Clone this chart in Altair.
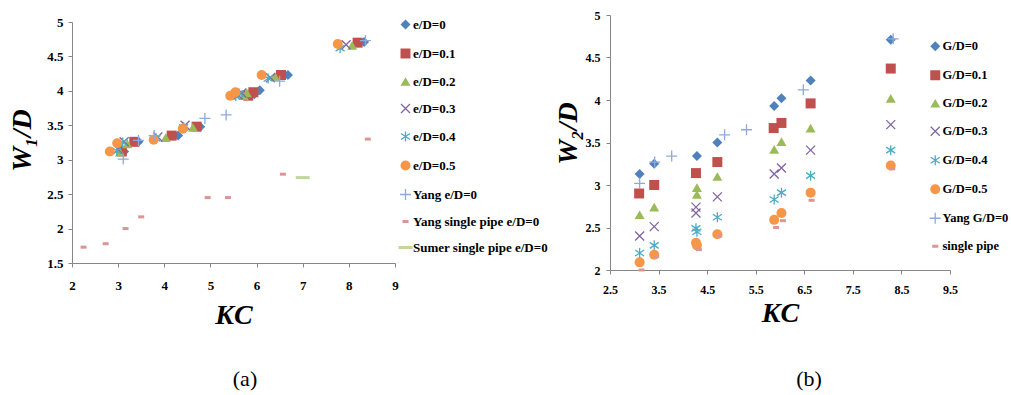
import altair as alt
import pandas as pd

SERIF = "Liberation Serif"

# ---------------- panel (a): W1/D vs KC ----------------
A_SERIES = ["e/D=0", "e/D=0.1", "e/D=0.2", "e/D=0.3", "e/D=0.4", "e/D=0.5",
            "Yang  e/D=0", "Yang single pipe e/D=0", "Sumer single pipe e/D=0"]

A_KC = {
    "e/D=0":   [3.13, 3.44, 4.30, 4.78, 5.95, 6.07, 6.68, 8.33],
    "e/D=0.1": [3.08, 3.35, 4.16, 4.70, 5.82, 5.93, 6.53, 8.19],
    "e/D=0.2": [3.04, 3.20, 4.03, 4.62, 5.72, 5.79, 6.40, 8.07],
    "e/D=0.3": [3.00, 3.13, 3.86, 4.45, 5.60, 5.68, 6.30, 7.94],
    "e/D=0.4": [2.97, 3.10, 3.82, 4.42, 5.55, 5.62, 6.25, 7.81],
    "e/D=0.5": [2.82, 2.98, 3.77, 4.40, 5.43, 5.54, 6.11, 7.76],
    "Yang  e/D=0": [3.11, 3.44, 3.78, 4.88, 5.34, 6.50, 8.36],
    "Yang single pipe e/D=0": [2.25, 2.73, 3.16, 3.50, 4.94, 5.38, 6.57, 8.41],
    "Sumer single pipe e/D=0": [7.00],
}
A_W = {
    "e/D=0":   [3.12, 3.26, 3.35, 3.48, 3.95, 4.01, 4.23, 4.71],
    "e/D=0.1": [3.12, 3.26, 3.35, 3.48, 3.93, 3.98, 4.23, 4.70],
    "e/D=0.2": [3.11, 3.23, 3.32, 3.47, 3.93, 3.97, 4.21, 4.66],
    "e/D=0.3": [3.15, 3.26, 3.33, 3.50, 3.94, 3.97, 4.19, 4.67],
    "e/D=0.4": [3.13, 3.25, 3.31, 3.47, 3.92, 3.96, 4.18, 4.62],
    "e/D=0.5": [3.12, 3.24, 3.29, 3.45, 3.93, 3.98, 4.23, 4.68],
    "Yang  e/D=0": [3.01, 3.28, 3.35, 3.60, 3.65, 4.14, 4.73],
    "Yang single pipe e/D=0": [1.73, 1.78, 2.00, 2.17, 2.45, 2.45, 2.79, 3.30],
    "Sumer single pipe e/D=0": [2.74],
}

# ---------------- panel (b): W2/D vs KC ----------------
B_SERIES = ["G/D=0", "G/D=0.1", "G/D=0.2", "G/D=0.3", "G/D=0.4", "G/D=0.5",
            "Yang G/D=0", "single pipe"]

B_KC = {
    "G/D=0":   [3.11, 3.41, 4.29, 4.71, 5.88, 6.03, 6.63, 8.28],
    "G/D=0.1": [3.10, 3.41, 4.27, 4.71, 5.87, 6.03, 6.63, 8.28],
    "G/D=0.2": [3.11, 3.41, 4.29, 4.29, 4.71, 5.88, 6.03, 6.63, 8.28],
    "G/D=0.3": [3.11, 3.41, 4.27, 4.27, 4.71, 5.88, 6.03, 6.63, 8.28],
    "G/D=0.4": [3.11, 3.41, 4.27, 4.29, 4.71, 5.88, 6.03, 6.63, 8.28],
    "G/D=0.5": [3.11, 3.41, 4.27, 4.29, 4.71, 5.88, 6.03, 6.63, 8.28],
    "Yang G/D=0": [3.11, 3.42, 3.77, 4.86, 5.31, 6.48, 8.33],
    "single pipe": [3.15, 3.45, 4.33, 4.75, 5.92, 6.06, 6.65, 8.31],
}
B_W = {
    "G/D=0":   [3.13, 3.25, 3.34, 3.50, 3.93, 4.02, 4.23, 4.71],
    "G/D=0.1": [2.90, 3.00, 3.14, 3.27, 3.67, 3.73, 3.96, 4.37],
    "G/D=0.2": [2.65, 2.74, 2.97, 2.89, 3.10, 3.42, 3.51, 3.67, 4.02],
    "G/D=0.3": [2.40, 2.51, 2.74, 2.67, 2.86, 3.13, 3.20, 3.41, 3.71],
    "G/D=0.4": [2.20, 2.29, 2.49, 2.45, 2.62, 2.83, 2.91, 3.11, 3.41],
    "G/D=0.5": [2.09, 2.18, 2.32, 2.29, 2.42, 2.59, 2.67, 2.91, 3.23],
    "Yang G/D=0": [3.02, 3.27, 3.34, 3.59, 3.65, 4.12, 4.72],
    "single pipe": [2.00, 2.16, 2.24, 2.40, 2.50, 2.58, 2.82, 3.19],
}

A_XTICKS = [2, 3, 4, 5, 6, 7, 8, 9]
A_YTICKS = [1.5, 2, 2.5, 3, 3.5, 4, 4.5, 5]
B_XTICKS = [2.5, 3.5, 4.5, 5.5, 6.5, 7.5, 8.5, 9.5]
B_YTICKS = [2, 2.5, 3, 3.5, 4, 4.5, 5]
CAPTIONS = ["(a)", "(b)"]

# ---------------- styles ----------------
BLUE, RED, GREEN, PURPLE, TEAL, ORANGE = "#4F81BD", "#C0504D", "#9BBB59", "#8064A2", "#4BACC6", "#F79646"
LIGHTBLUE, PINK, LIGHTGREEN = "#8EA9DB", "#DA9694", "#C3D69B"
XPATH = "M-0.9,-0.9L0.9,0.9M-0.9,0.9L0.9,-0.9"
ASTER = "M0,-1L0,1M-0.9,-0.6L0.9,0.6M-0.9,0.6L0.9,-0.6"
PLUS = "M-1.1,0L1.1,0M0,-1.1L0,1.1"
DASH = "M-0.6,-0.3L0.6,-0.3L0.6,0.3L-0.6,0.3Z"
LDASH = "M-1.4,-0.3L1.4,-0.3L1.4,0.3L-1.4,0.3Z"
T = "transparent"

A_FILL = [BLUE, RED, GREEN, PURPLE, TEAL, ORANGE, LIGHTBLUE, PINK, LIGHTGREEN]
A_STROKE = [T, T, T, PURPLE, TEAL, T, LIGHTBLUE, T, T]
A_SHAPE = ["diamond", "square", "triangle-up", XPATH, ASTER, "circle", PLUS, DASH, LDASH]
B_FILL = [BLUE, RED, GREEN, PURPLE, TEAL, ORANGE, LIGHTBLUE, PINK]
B_STROKE = [T, T, T, PURPLE, TEAL, T, LIGHTBLUE, T]
B_SHAPE = ["diamond", "square", "triangle-up", XPATH, ASTER, "circle", PLUS, DASH]


def frame(series, kc, w):
    rows = []
    for s in series:
        for k, v in zip(kc[s], w[s]):
            rows.append({"s": s, "KC": k, "W": v})
    return pd.DataFrame(rows)


dfA = frame(A_SERIES, A_KC, A_W)
dfB = frame(B_SERIES, B_KC, B_W)

AX_COMMON = dict(grid=False, domainColor="#868686", tickColor="#868686", tickSize=4,
                 labelFont=SERIF, labelFontWeight="bold", labelColor="black",
                 labelFlush=False, labelOverlap=False, format=".2~g",
                 titleFont=SERIF, titleFontStyle="italic", titleFontWeight="bold",
                 titleColor="black", titleAlign="center", titleBaseline="middle")


def legend(x, y, rp, fs):
    return alt.Legend(orient="none", legendX=x, legendY=y, title=None, padding=0,
                      labelFont=SERIF, labelFontWeight="bold", labelFontSize=fs,
                      labelColor="black", labelLimit=400, labelOffset=1,
                      symbolSize=100, symbolStrokeWidth=1.3, rowPadding=rp)


legA = legend(399, 18, 12, 13)
legB = legend(929, 40, 13, 12.5)

chartA = alt.Chart(dfA).mark_point(filled=True, size=100, strokeWidth=1.3, opacity=1).encode(
    x=alt.X("KC:Q",
            scale=alt.Scale(domain=[2, 9], range=[72, 395], nice=False, zero=False),
            axis=alt.Axis(orient="bottom", offset=-132, values=A_XTICKS,
                          labelFontSize=13, labelPadding=12, title="KC",
                          titleFontSize=28, titleY=52, **AX_COMMON)),
    y=alt.Y("W:Q",
            scale=alt.Scale(domain=[1.5, 5], range=[263, 22], nice=False, zero=False),
            axis=alt.Axis(orient="left", offset=-72, values=A_YTICKS,
                          labelFontSize=13, labelPadding=5, title="W\u2081/D",
                          titleFontSize=28, titleAngle=270, titleX=-50, titleY=140,
                          **AX_COMMON)),
    fill=alt.Fill("s:N", scale=alt.Scale(domain=A_SERIES, range=A_FILL), legend=legA),
    stroke=alt.Stroke("s:N", scale=alt.Scale(domain=A_SERIES, range=A_STROKE), legend=legA),
    shape=alt.Shape("s:N", scale=alt.Scale(domain=A_SERIES, range=A_SHAPE), legend=legA),
)

chartB = alt.Chart(dfB).mark_point(filled=True, size=100, strokeWidth=1.3, opacity=1).encode(
    x=alt.X("KC:Q",
            scale=alt.Scale(domain=[2.5, 9.5], range=[610, 950], nice=False, zero=False),
            axis=alt.Axis(orient="bottom", offset=-125, values=B_XTICKS,
                          labelFontSize=12, labelPadding=10, title="KC",
                          titleFontSize=28, titleY=43, **AX_COMMON)),
    y=alt.Y("W:Q",
            scale=alt.Scale(domain=[2, 5], range=[270, 15], nice=False, zero=False),
            axis=alt.Axis(orient="left", offset=-610, values=B_YTICKS,
                          labelFontSize=12, labelPadding=6, title="W\u2082/D",
                          titleFontSize=28, titleAngle=270, titleX=-42, titleY=133,
                          **AX_COMMON)),
    fill=alt.Fill("s:N", scale=alt.Scale(domain=B_SERIES, range=B_FILL), legend=legB),
    stroke=alt.Stroke("s:N", scale=alt.Scale(domain=B_SERIES, range=B_STROKE), legend=legB),
    shape=alt.Shape("s:N", scale=alt.Scale(domain=B_SERIES, range=B_SHAPE), legend=legB),
)

capA = alt.Chart(pd.DataFrame({"t": [CAPTIONS[0]]})).mark_text(
    font=SERIF, fontSize=22, color="black", align="center", baseline="middle"
).encode(text="t:N", x=alt.value(245), y=alt.value(379))

capB = alt.Chart(pd.DataFrame({"t": [CAPTIONS[1]]})).mark_text(
    font=SERIF, fontSize=22, color="black", align="center", baseline="middle"
).encode(text="t:N", x=alt.value(809), y=alt.value(379))

chart = alt.layer(chartA, chartB, capA, capB).resolve_scale(
    x="independent", y="independent", fill="independent",
    stroke="independent", shape="independent"
).resolve_legend(
    fill="independent", stroke="independent", shape="independent"
).properties(
    width=1011, height=395, padding=0,
    autosize=alt.AutoSizeParams(type="none"), background="white"
).configure_view(stroke=None)

chart.save("out.html", embed_options={"renderer": "svg", "actions": False})
